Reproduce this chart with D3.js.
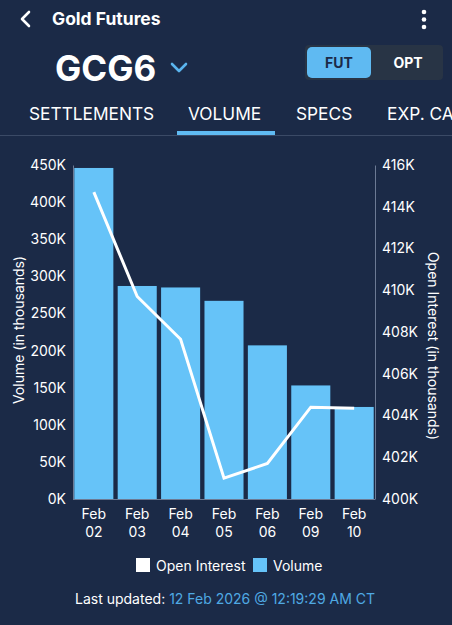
<!DOCTYPE html>
<html lang="en">
  <head>
    <meta charset="UTF-8" />
    <title>Gold Futures</title>
    <script src="https://cdn.jsdelivr.net/npm/d3@7"></script>
    <style>
      body {
        margin: 0;
        background: #1b2a47;
        overflow: hidden;
      }
      text {
        font-family: Inter, "Noto Sans", sans-serif;
      }
    </style>
  </head>
  <body>
    <script>
      const width = 452;
      const height = 625;

      const days = ["Feb 02", "Feb 03", "Feb 04", "Feb 05", "Feb 06", "Feb 09", "Feb 10"];
      const volume = [446, 287, 285, 267, 207, 153, 124]; // K
      const openInterest = [414.7, 409.7, 407.65, 401.0, 401.7, 404.4, 404.35]; // K
      const volTicks = [0, 50, 100, 150, 200, 250, 300, 350, 400, 450];
      const oiTicks = [400, 402, 404, 406, 408, 410, 412, 414, 416];
      const tabs = ["SETTLEMENTS", "VOLUME", "SPECS", "EXP. CALENDAR"];

      const bg = "#1b2a47";
      const blue = "#66c3f8";

      const svg = d3
        .select("body")
        .append("svg")
        .attr("width", width)
        .attr("height", height);

      svg.append("rect").attr("width", width).attr("height", height).attr("fill", bg);

      // header
      svg
        .append("path")
        .attr("d", "M29,12 L22,19 L29,26")
        .attr("fill", "none")
        .attr("stroke", "#fff")
        .attr("stroke-width", 2.6)
        .attr("stroke-linecap", "round")
        .attr("stroke-linejoin", "round");
      svg
        .append("text")
        .attr("x", 52)
        .attr("y", 25)
        .attr("fill", "#fff")
        .attr("font-size", 17.5)
        .attr("font-weight", 700)
        .text("Gold Futures");
      [12, 19.5, 27].forEach((y) =>
        svg.append("circle").attr("cx", 424).attr("cy", y).attr("r", 2.3).attr("fill", "#fff")
      );

      svg
        .append("text")
        .attr("x", 55)
        .attr("y", 81)
        .attr("fill", "#fff")
        .attr("font-size", 35)
        .attr("font-weight", 700)
        .text("GCG6");
      svg
        .append("path")
        .attr("d", "M172,64 L179,71 L186,64")
        .attr("fill", "none")
        .attr("stroke", "#5ab4ee")
        .attr("stroke-width", 2.6)
        .attr("stroke-linecap", "round")
        .attr("stroke-linejoin", "round");

      // FUT / OPT toggle
      svg
        .append("rect")
        .attr("x", 305)
        .attr("y", 45)
        .attr("width", 138)
        .attr("height", 35)
        .attr("rx", 4)
        .attr("fill", "#283445");
      svg
        .append("rect")
        .attr("x", 307)
        .attr("y", 47)
        .attr("width", 64)
        .attr("height", 31)
        .attr("rx", 5)
        .attr("fill", "#5fbaf2");
      svg
        .append("text")
        .attr("x", 339)
        .attr("y", 68)
        .attr("text-anchor", "middle")
        .attr("fill", "#1b2a47")
        .attr("font-size", 14)
        .attr("font-weight", 700)
        .text("FUT");
      svg
        .append("text")
        .attr("x", 408)
        .attr("y", 68)
        .attr("text-anchor", "middle")
        .attr("fill", "#fff")
        .attr("font-size", 14)
        .attr("font-weight", 700)
        .text("OPT");

      // tabs (last one runs off the screen edge, as in the app)
      const tabX = [29, 188, 296, 387];
      tabs.forEach((t, i) =>
        svg
          .append("text")
          .attr("x", tabX[i])
          .attr("y", 120)
          .attr("fill", "#fff")
          .attr("font-size", 17.3)
          .text(t)
      );
      svg
        .append("rect")
        .attr("x", 0)
        .attr("y", 135)
        .attr("width", width)
        .attr("height", 1)
        .attr("fill", "#3b4a66");
      svg
        .append("rect")
        .attr("x", 177)
        .attr("y", 131)
        .attr("width", 98)
        .attr("height", 4)
        .attr("fill", "#5fbaf2");

      // chart
      const x = d3
        .scaleBand()
        .domain(days)
        .range([73, 375])
        .paddingInner(0.1)
        .paddingOuter(0.03);

      const yVol = d3.scaleLinear().domain([0, 450]).range([499, 165]);
      const yOI = d3.scaleLinear().domain([400, 416]).range([499, 165]);

      svg
        .append("g")
        .selectAll("rect")
        .data(volume)
        .join("rect")
        .attr("x", (d, i) => x(days[i]))
        .attr("y", (d) => yVol(d))
        .attr("width", x.bandwidth())
        .attr("height", (d) => yVol(0) - yVol(d))
        .attr("fill", blue);

      const line = d3
        .line()
        .x((d, i) => x(days[i]) + x.bandwidth() / 2)
        .y((d) => yOI(d));

      svg
        .append("path")
        .datum(openInterest)
        .attr("d", line)
        .attr("fill", "none")
        .attr("stroke", "#fff")
        .attr("stroke-width", 3);

      const leftAxis = svg
        .append("g")
        .attr("transform", "translate(73,0)")
        .call(
          d3
            .axisLeft(yVol)
            .tickValues(volTicks)
            .tickSize(0)
            .tickPadding(7)
            .tickFormat((d) => d + "K")
        );
      const rightAxis = svg
        .append("g")
        .attr("transform", "translate(375,0)")
        .call(
          d3
            .axisRight(yOI)
            .tickValues(oiTicks)
            .tickSize(0)
            .tickPadding(7)
            .tickFormat((d) => d + "K")
        );
      [leftAxis, rightAxis].forEach((g) => {
        g.select(".domain").attr("stroke", "#6c7a94").attr("stroke-width", 1);
        g.selectAll("text")
          .attr("fill", "#fff")
          .attr("font-size", 14)
          .attr("font-family", "Inter, sans-serif");
      });

      svg
        .append("line")
        .attr("x1", 73)
        .attr("x2", 375)
        .attr("y1", 499.5)
        .attr("y2", 499.5)
        .attr("stroke", "#6c7a94");

      // x labels
      const xl = svg
        .append("g")
        .selectAll("text")
        .data(days)
        .join("text")
        .attr("x", (d) => x(d) + x.bandwidth() / 2)
        .attr("y", 519)
        .attr("text-anchor", "middle")
        .attr("fill", "#fff")
        .attr("font-size", 14);
      xl.append("tspan").text((d) => d.split(" ")[0]);
      xl.append("tspan")
        .attr("x", (d) => x(d) + x.bandwidth() / 2)
        .attr("dy", 18)
        .text((d) => d.split(" ")[1]);

      // axis titles
      svg
        .append("text")
        .attr("transform", "translate(24,330) rotate(-90)")
        .attr("text-anchor", "middle")
        .attr("fill", "#fff")
        .attr("font-size", 14)
        .text("Volume (in thousands)");
      svg
        .append("text")
        .attr("transform", "translate(428,346) rotate(90)")
        .attr("text-anchor", "middle")
        .attr("fill", "#fff")
        .attr("font-size", 14)
        .text("Open Interest (in thousands)");

      // legend
      svg.append("rect").attr("x", 136).attr("y", 558).attr("width", 14).attr("height", 14).attr("fill", "#fff");
      svg.append("text").attr("x", 156).attr("y", 571).attr("fill", "#fff").attr("font-size", 14).text("Open Interest");
      svg.append("rect").attr("x", 253).attr("y", 558).attr("width", 14).attr("height", 14).attr("fill", blue);
      svg.append("text").attr("x", 273).attr("y", 571).attr("fill", "#fff").attr("font-size", 14).text("Volume");

      const upd = svg
        .append("text")
        .attr("x", 75)
        .attr("y", 604)
        .attr("font-size", 14);
      upd.append("tspan").attr("fill", "#fff").text("Last updated: ");
      upd.append("tspan").attr("fill", "#4fa9e3").text("12 Feb 2026 @ 12:19:29 AM CT");
    </script>
  </body>
</html>
